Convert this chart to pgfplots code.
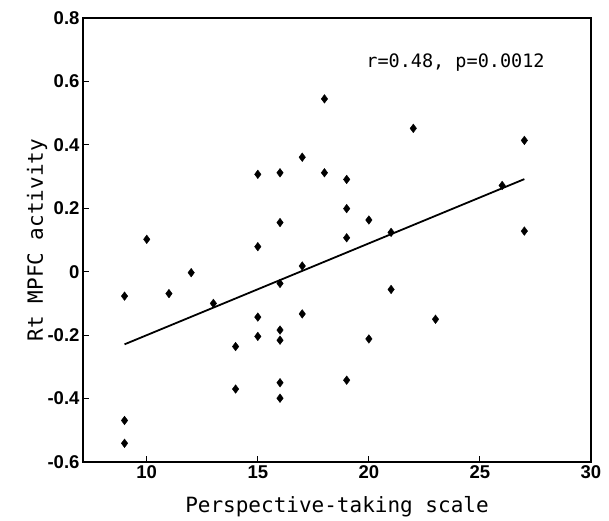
\documentclass[border=0pt]{standalone}
\usepackage{fontspec}
\setmainfont{Liberation Sans}
\newfontfamily\gothic{DejaVu Sans Mono}
\usepackage{pgfplots}
\pgfplotsset{compat=1.18}

\pgfplotstableread{
x y
18 0.545
22 0.452
27 0.414
17 0.361
15 0.307
16 0.312
18 0.312
19 0.291
19 0.199
16 0.155
20 0.163
26 0.272
27 0.128
21 0.124
19 0.107
10 0.102
15 0.079
17 0.018
12 -0.003
9 -0.077
11 -0.069
13 -0.100
16 -0.037
21 -0.056
15 -0.143
17 -0.133
23 -0.150
16 -0.184
15 -0.204
16 -0.216
20 -0.212
14 -0.236
14 -0.370
16 -0.350
19 -0.342
16 -0.399
9 -0.469
9 -0.541
}\pts

\begin{document}
\begin{tikzpicture}
\begin{axis}[
  scale only axis, width=508pt, height=444pt,
  xmin=7.13, xmax=30, ymin=-0.6, ymax=0.8,
  xtick={10,15,20,25,30}, xticklabels={10,15,20,25,30},
  ytick={-0.6,-0.4,-0.2,0,0.2,0.4,0.6,0.8},
  yticklabels={-0.6,-0.4,-0.2,0,0.2,0.4,0.6,0.8},
  tick align=inside, tick pos=left, major tick length=6pt,
  axis line style={line width=1.2pt}, tick style={line width=1pt, black},
  ticklabel style={font=\fontsize{18.5}{20}\selectfont\bfseries},
  xlabel={Perspective-taking scale}, ylabel={Rt MPFC activity},
  every axis x label/.style={at={(axis description cs:0.5,-0.101)}, anchor=center,
    font=\gothic\fontsize{21}{24}\selectfont},
  every axis y label/.style={at={(axis description cs:-0.0906,0.5)}, rotate=90, anchor=center,
    font=\gothic\fontsize{21}{24}\selectfont},
]
\addplot[only marks, mark=diamond*, mark size=4.3pt, black] table {\pts};
\addplot[black, line width=1.8pt, no marks] coordinates {(9,-0.229) (27,0.292)};
\node[font=\gothic\fontsize{18.5}{20}\selectfont, anchor=center] at (axis cs:23.9,0.658) {r=0.48,\ p=0.0012};
\end{axis}
\path (current axis.south west) ++(-83pt,-59pt);
\path (current axis.north east) ++(18pt,18pt);
\end{tikzpicture}
\end{document}
